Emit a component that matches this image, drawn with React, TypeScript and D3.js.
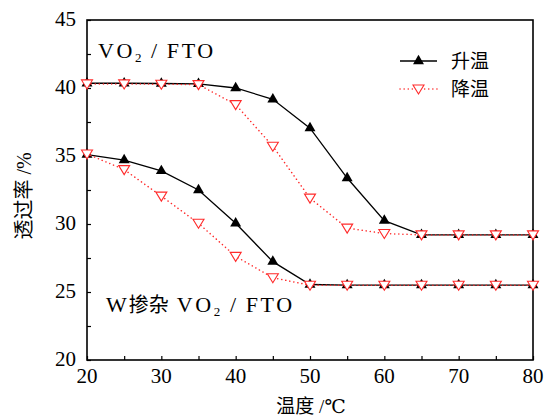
import React, { useEffect, useRef } from "react";
import * as d3 from "d3";

// temperatures (°C)
const temps = [20, 25, 30, 35, 40, 45, 50, 55, 60, 65, 70, 75, 80];

// VO2/FTO
const pureHeat = [40.35, 40.35, 40.33, 40.3, 40.0, 39.17, 37.05, 33.38, 30.25, 29.2, 29.2, 29.2, 29.2];
const pureCool = [40.3, 40.3, 40.28, 40.25, 38.78, 35.72, 31.9, 29.7, 29.3, 29.2, 29.2, 29.2, 29.2];

// W-doped VO2/FTO
const dopedHeat = [35.1, 34.7, 33.9, 32.5, 30.05, 27.23, 25.55, 25.5, 25.5, 25.5, 25.5, 25.5, 25.5];
const dopedCool = [35.15, 34.0, 32.05, 30.05, 27.62, 26.05, 25.5, 25.5, 25.5, 25.5, 25.5, 25.5, 25.5];

const xTicks = [20, 30, 40, 50, 60, 70, 80];
const yTicks = [20, 25, 30, 35, 40, 45];

const serif = "'Liberation Serif', 'DejaVu Serif', serif";
const cjk = "'Noto Sans CJK SC', sans-serif";

export default function App() {
  const ref = useRef<SVGSVGElement>(null);

  useEffect(() => {
    const width = 546;
    const height = 419;
    const margin = { top: 20, right: 13, bottom: 59, left: 87 };
    const innerWidth = width - margin.left - margin.right;
    const innerHeight = height - margin.top - margin.bottom;

    const svg = d3.select(ref.current);
    svg.selectAll("*").remove();

    const g = svg.append("g").attr("transform", `translate(${margin.left}, ${margin.top})`);

    const xScale = d3.scaleLinear().domain([20, 80]).range([0, innerWidth]);
    const yScale = d3.scaleLinear().domain([20, 45]).range([innerHeight, 0]);

    // minor + major ticks pointing inwards
    const xAxis = g.append("g").attr("transform", `translate(0, ${innerHeight})`)
      .call(d3.axisBottom(xScale).tickValues(d3.range(20, 81, 5)).tickSize(-4).tickFormat(() => ""));
    xAxis.select(".domain").remove();
    xAxis.selectAll("line").attr("stroke", "#000").attr("stroke-width", 1.2);

    const yAxis = g.append("g")
      .call(d3.axisLeft(yScale).tickValues(d3.range(20, 45.1, 2.5)).tickSize(-4).tickFormat(() => ""));
    yAxis.select(".domain").remove();
    yAxis.selectAll("line").attr("stroke", "#000").attr("stroke-width", 1.2);

    g.selectAll(".xlab").data(xTicks).join("text").attr("class", "xlab")
      .attr("x", d => xScale(d)).attr("y", innerHeight + 23)
      .attr("text-anchor", "middle").attr("font-family", serif).attr("font-size", 21)
      .text(d => d);

    g.selectAll(".ylab").data(yTicks).join("text").attr("class", "ylab")
      .attr("x", -11).attr("y", d => yScale(d) + 6)
      .attr("text-anchor", "end").attr("font-family", serif).attr("font-size", 21)
      .text(d => d);

    g.append("rect").attr("width", innerWidth).attr("height", innerHeight)
      .attr("fill", "none").attr("stroke", "#000").attr("stroke-width", 1.6);

    const line = d3.line<number>().x((_, i) => xScale(temps[i])).y(d => yScale(d));
    const up = d3.symbol().type(d3.symbolTriangle).size(52);
    const down = "M-5.5,-4L5.5,-4L0,5Z";

    const drawHeat = (vals: number[]) => {
      g.append("path").datum(vals).attr("d", line)
        .attr("fill", "none").attr("stroke", "#000").attr("stroke-width", 1.3);
      g.append("g").selectAll("path").data(vals).join("path")
        .attr("transform", (d, i) => `translate(${xScale(temps[i])}, ${yScale(d)})`)
        .attr("d", up()).attr("fill", "#000");
    };
    const drawCool = (vals: number[]) => {
      g.append("path").datum(vals).attr("d", line)
        .attr("fill", "none").attr("stroke", "#ff2a2a").attr("stroke-width", 1.5)
        .attr("stroke-dasharray", "0.1 4").attr("stroke-linecap", "round");
      g.append("g").selectAll("path").data(vals).join("path")
        .attr("transform", (d, i) => `translate(${xScale(temps[i])}, ${yScale(d)})`)
        .attr("d", down).attr("fill", "#fff").attr("stroke", "#ff2a2a").attr("stroke-width", 1.1);
    };

    drawHeat(pureHeat);
    drawHeat(dopedHeat);
    drawCool(pureCool);
    drawCool(dopedCool);

    // legend
    const lg = g.append("g").attr("transform", `translate(${400 - margin.left}, ${61 - margin.top})`);
    lg.append("line").attr("x1", 0).attr("x2", 37).attr("stroke", "#000").attr("stroke-width", 1.3);
    lg.append("path").attr("transform", "translate(18.5, 0)").attr("d", up()).attr("fill", "#000");
    lg.append("text").attr("x", 51).attr("y", 7).attr("font-family", cjk).attr("font-size", 19).text("升温");
    lg.append("line").attr("x1", 0).attr("x2", 37).attr("y1", 28).attr("y2", 28)
      .attr("stroke", "#ff2a2a").attr("stroke-width", 1.5)
      .attr("stroke-dasharray", "0.1 4").attr("stroke-linecap", "round");
    lg.append("path").attr("transform", "translate(18.5, 28)").attr("d", down)
      .attr("fill", "#fff").attr("stroke", "#ff2a2a").attr("stroke-width", 1.1);
    lg.append("text").attr("x", 51).attr("y", 35).attr("font-family", cjk).attr("font-size", 19).text("降温");

    // sample labels
    const t1 = g.append("text").attr("x", 11).attr("y", 38).attr("font-family", serif)
      .attr("font-size", 22).attr("letter-spacing", 2.6);
    t1.append("tspan").text("VO");
    t1.append("tspan").attr("font-size", 13).attr("dy", 4).text("2");
    t1.append("tspan").attr("dy", -4).text("\u2009/\u2009FTO");

    const t2 = g.append("text").attr("x", 19).attr("y", 292).attr("font-size", 22);
    t2.append("tspan").attr("font-family", serif).attr("letter-spacing", 2).text("W");
    t2.append("tspan").attr("font-family", cjk).attr("font-size", 20).text("掺杂");
    t2.append("tspan").attr("font-family", serif).attr("letter-spacing", 2.6).text(" VO");
    t2.append("tspan").attr("font-family", serif).attr("letter-spacing", 2.6).attr("font-size", 13).attr("dy", 4).text("2");
    t2.append("tspan").attr("font-family", serif).attr("letter-spacing", 2.6).attr("dy", -4).text("\u2009/\u2009FTO");

    // axis titles
    const xt = svg.append("text").attr("x", 311).attr("y", 413).attr("text-anchor", "middle").attr("font-size", 19);
    xt.append("tspan").attr("font-family", cjk).text("温度");
    xt.append("tspan").attr("font-family", serif).text(" /℃");

    const yt = svg.append("text").attr("transform", "translate(31, 196) rotate(-90)")
      .attr("text-anchor", "middle").attr("font-size", 20);
    yt.append("tspan").attr("font-family", cjk).text("透过率");
    yt.append("tspan").attr("font-family", serif).text(" /%");
  }, []);

  return (
    <svg ref={ref} width={546} height={419}
      style={{ position: "absolute", left: 0, top: 0, background: "#fff" }} />
  );
}
